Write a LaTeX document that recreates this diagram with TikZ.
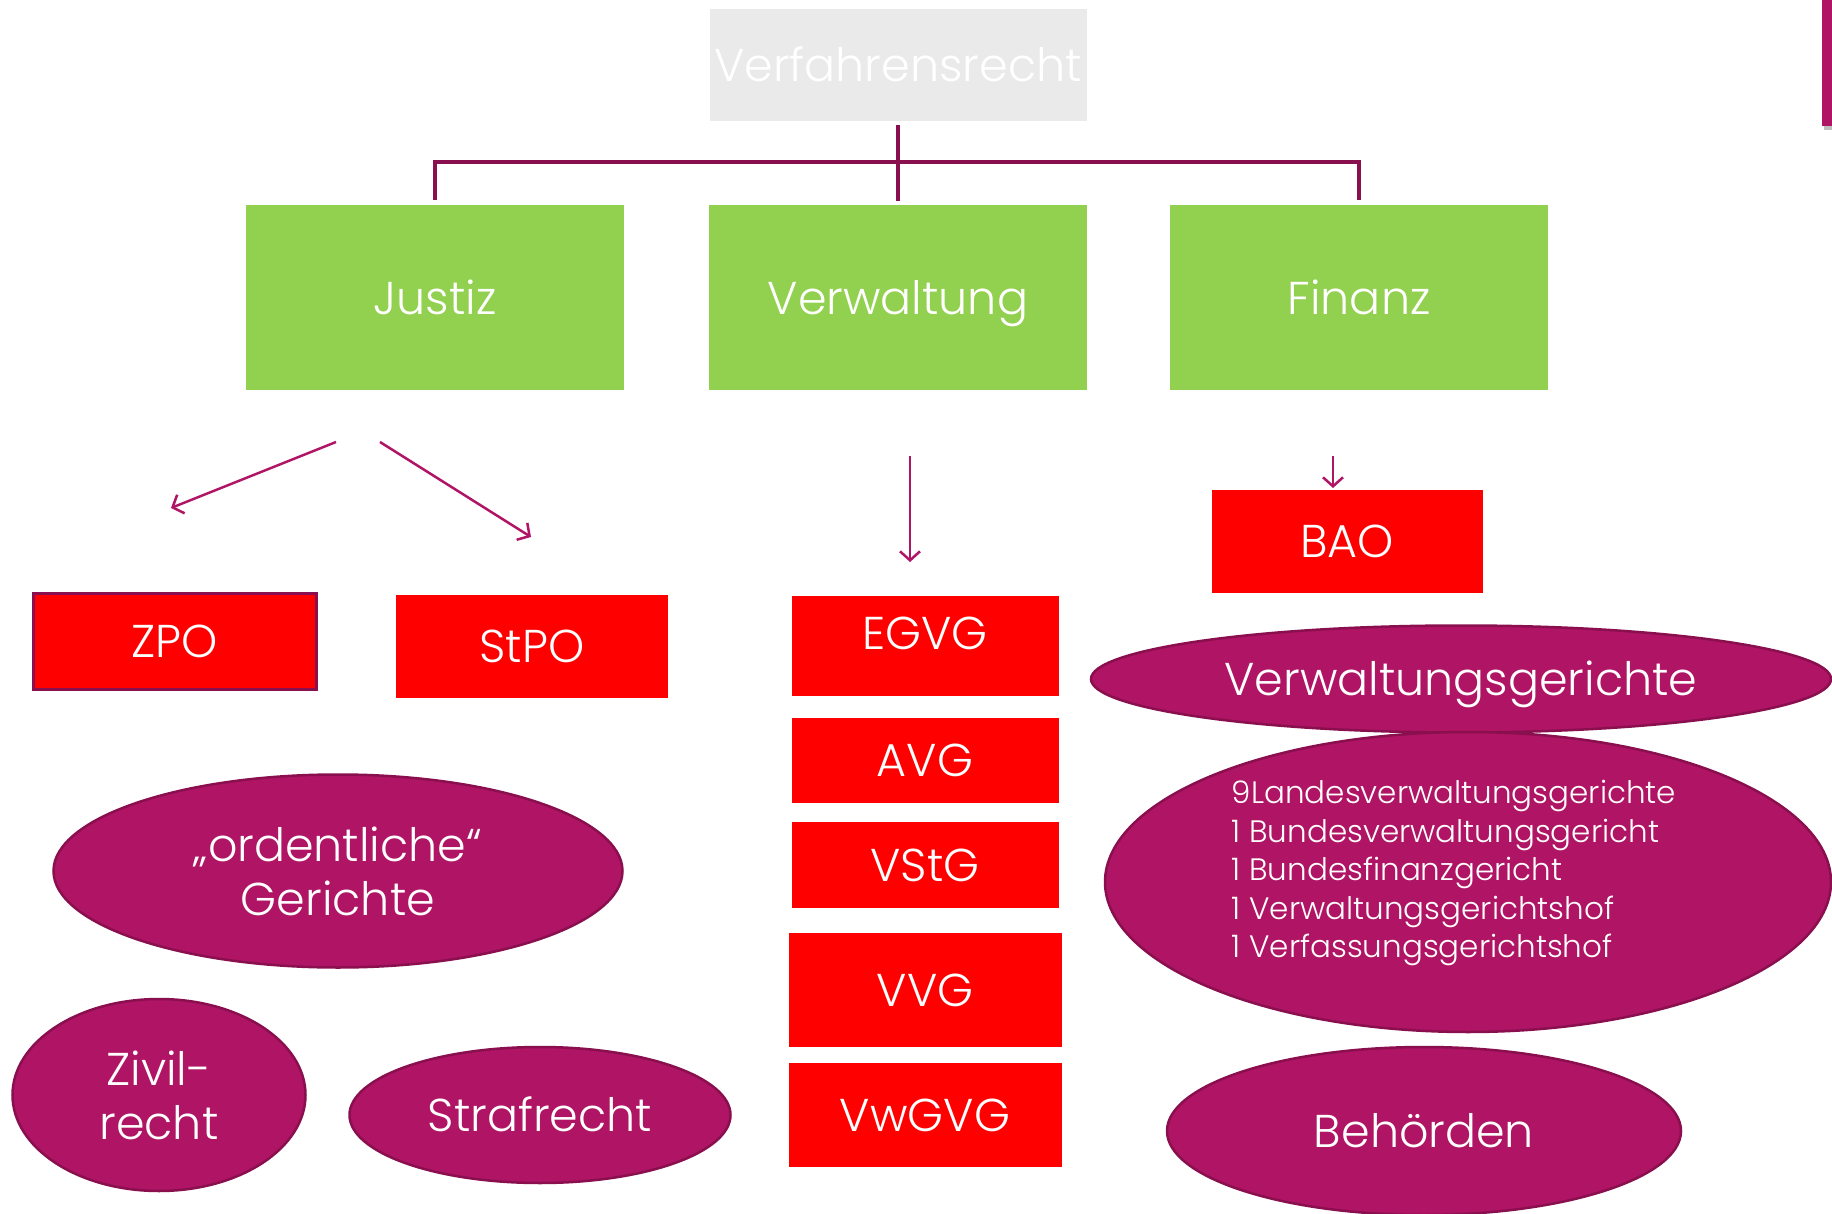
\documentclass[tikz,border=0pt]{standalone}
\usepackage{fontspec}
\IfFontExistsTF{Poppins Light}{\setmainfont{Poppins Light}}{\setmainfont{Poppins}}
\usepackage{tikz}
\usetikzlibrary{arrows.meta,positioning,shapes.geometric,calc}

\definecolor{lawgreen}{HTML}{92D050}
\definecolor{lawred}{HTML}{FF0000}
\definecolor{lawplum}{HTML}{B01464}
\definecolor{lawplumdark}{HTML}{8A0F4E}
\definecolor{lawgray}{HTML}{EAEAEA}

\begin{document}
\begin{tikzpicture}[x=1pt, y=-1pt,
    every node/.style={font=\fontsize{46}{54}\selectfont, text=white, inner sep=0pt, align=center},
    oneline/.style={text height=33pt, text depth=0pt},
    branch/.style={oneline, fill=lawgreen, minimum width=378pt, minimum height=185pt},
    codebox/.style={oneline, fill=lawred, minimum width=267pt},
    court/.style={ellipse, fill=lawplum, draw=lawplumdark, line width=2.5pt},
    tree/.style={line width=4pt, draw=lawplumdark},
    pointer/.style={-{Straight Barb[length=9pt,width=20pt]}, line width=2.5pt, draw=lawplum}]
    \useasboundingbox (0,0) rectangle (1832,1214);

    % corner mark
    \fill[black!25] (1824,3) rectangle (1834,130);
    \fill[lawplum] (1822,0) rectangle (1832,126);

    % top and the three branches
    \node[oneline, fill=lawgray, minimum width=377pt, minimum height=112pt] (recht) at (898,65) {Verfahrensrecht};
    \node[branch] (justiz) at (435,298) {Justiz};
    \node[branch] (verw) at (898,298) {Verwaltung};
    \node[branch] (finanz) at (1359,298) {Finanz};

    \draw[tree, shorten <=4pt, shorten >=4pt] (recht.south) -- (verw.north);
    \draw[tree, shorten >=5pt] (justiz.north) ++(0,-5) -- ++(0,-38) -| (finanz.north);

    % arrows
    \coordinate (jl0) at (336,442);
    \coordinate (jl1) at (171,508);
    \coordinate (jr0) at (380,442);
    \coordinate (jr1) at (531,537);
    \coordinate (vw0) at (910,456);
    \coordinate (vw1) at (910,562);
    \coordinate (fi0) at (1333,456);
    \coordinate (fi1) at (1333,488);
    \draw[pointer] (jl0) -- (jl1);
    \draw[pointer] (jr0) -- (jr1);
    \draw[pointer] (vw0) -- (vw1);
    \draw[pointer] (fi0) -- (fi1);

    % codes
    \node[codebox, minimum width=283pt, minimum height=96pt, draw=lawplumdark, line width=3pt] (zpo) at (175,641) {ZPO};
    \node[codebox, minimum width=272pt, minimum height=103pt] (stpo) at (532,646) {StPO};
    \node[codebox, minimum height=100pt, text depth=26pt] (egvg) at (925,646) {EGVG};
    \node[codebox, minimum height=85pt] (avg) at (925,760) {AVG};
    \node[codebox, minimum height=86pt] (vstg) at (925,865) {VStG};
    \node[codebox, minimum width=273pt, minimum height=114pt] (vvg) at (925,990) {VVG};
    \node[codebox, minimum width=273pt, minimum height=104pt] (vwgvg) at (925,1115) {VwGVG};
    \node[codebox, minimum width=271pt, minimum height=103pt] (bao) at (1347,541) {BAO};

    % courts
    \node[court, minimum width=569pt, minimum height=193pt] (ordentl) at (338,871) {„ordentliche“\\Gerichte};
    \node[court, minimum width=293pt, minimum height=192pt] (zivil) at (159,1095) {Zivil-\\recht};
    \node[court, oneline, minimum width=381pt, minimum height=136pt] (straf) at (540,1115) {Strafrecht};
    \node[court, oneline, minimum width=740pt, minimum height=107pt] (vgerichte) at (1461,679) {Verwaltungsgerichte};
    \node[court, minimum width=726pt, minimum height=300pt] (liste) at (1468,882) {};
    \node[align=left, font=\fontsize{31}{38.5}\selectfont] (listetext) at (1454,873)
        {9Landesverwaltungsgerichte\\1 Bundesverwaltungsgericht\\1 Bundesfinanzgericht\\1 Verwaltungsgerichtshof\\1 Verfassungsgerichtshof};
    \node[court, oneline, minimum width=514pt, minimum height=168pt] (behoerden) at (1424,1131) {Behörden};
\end{tikzpicture}
\end{document}
